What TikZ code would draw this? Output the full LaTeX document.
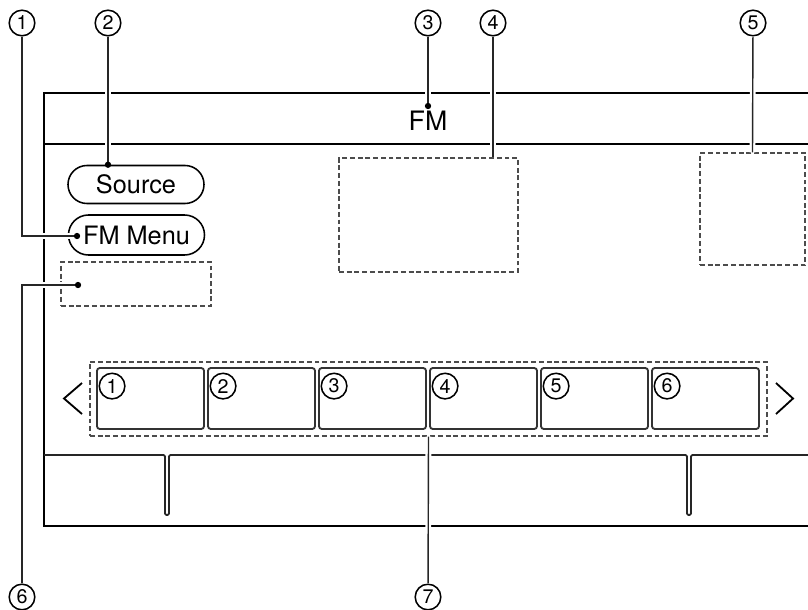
\documentclass[tikz,border=0pt]{standalone}
\usepackage{fontspec}
\setsansfont{TeX Gyre Heros}
\usepackage{tikz}
\usetikzlibrary{positioning, calc, shapes.misc}

\begin{document}
\begin{tikzpicture}[x=0.025cm, y=-0.025cm, font=\sffamily]
        \tikzstyle{frameline} = [line width=2.1pt, black]
        \tikzstyle{panel} = [line width=1.3pt, black!85, rounded corners=1pt]
        \tikzstyle{callout} = [circle, draw, line width=1.1pt, minimum size=0.64cm, inner sep=0pt, font=\sffamily\fontsize{14}{14}\selectfont]
        \tikzstyle{leader} = [line width=1pt, black!85, preaction={draw=white, line width=4.2pt}]
        \tikzstyle{button} = [rounded rectangle, draw, line width=1.1pt, minimum width=3.4cm, minimum height=0.95cm, inner sep=0pt, font=\sffamily\fontsize{18}{18}\selectfont]
        \tikzstyle{area} = [rectangle, draw=black!70, dash pattern=on 3.5pt off 2pt, line width=1pt, inner sep=0pt]
        \tikzstyle{preset} = [rectangle, draw=black!80, line width=1.3pt, rounded corners=2pt, minimum width=2.675cm, minimum height=1.525cm, inner sep=0pt]
        \tikzstyle{dot} = [circle, fill, inner sep=0pt, minimum size=4.5pt]

        \useasboundingbox (0,0) rectangle (808,610);

        % screen frame
        \draw [frameline] (808,93) -- (44,93) -- (44,526) -- (808,526);
        \draw [frameline] (44,144) -- (808,144);
        \draw [panel] (44,455) -- (165,455) -- (165,515) -- (169,515) -- (169,455) -- (687,455) -- (687,515) -- (691,515) -- (691,455) -- (808,455);

        \node [font=\sffamily\fontsize{19}{19}\selectfont] (fm) at (428,121) {FM};
        \node [button] (source) at (136,184.5) {Source};
        \node [button, minimum height=1cm] (fmmenu) at (136.5,235) {FM Menu};
        \node [area, minimum width=4.475cm, minimum height=2.85cm] (box4) at (428.5,215) {};
        \node [area, minimum width=2.625cm, minimum height=2.8cm] (box5) at (752.5,209) {};
        \node [area, minimum width=3.75cm, minimum height=1.1cm] (box6) at (136,284) {};

        % preset list
        \node [area, minimum width=16.925cm, minimum height=1.85cm] (presets) at (428.5,399) {};
        \foreach \i in {1,...,6} {
            \node [preset] (p\i) at ({150.5+111*(\i-1)},398.5) {};
            \node [callout] (n\i) at ($(p\i.north west)+(16,19)$) {\i};
        }
        \draw [line width=1.3pt] (82,383) -- (64,398.5) -- (82,414);
        \draw [line width=1.3pt] (776,383) -- (793,398.5) -- (776,414);

        % callouts
        \node [callout] (c1) at (22,23) {1};
        \node [callout] (c2) at (108,23) {2};
        \node [callout] (c3) at (428,23) {3};
        \node [callout] (c4) at (493,23) {4};
        \node [callout] (c5) at (753,23) {5};
        \node [callout] (c6) at (22,597) {6};
        \node [callout] (c7) at (428,597) {7};

        \coordinate (d1) at (77,236);
        \coordinate (d3) at (428,106);
        \coordinate (d6) at (78,285);

        \draw [leader] (c1) |- (d1);
        \draw [leader] (c2) -- (c2 |- source.north);
        \draw [leader] (c3) -- (d3);
        \draw [leader] (c4) -- (c4 |- box4.north);
        \draw [leader] (c5) -- (box5.north);
        \draw [leader] (d6) -| (c6);
        \draw [leader] (presets.south) -- (c7);

        \node [dot] at (d1) {};
        \node [dot] at (c2 |- source.north) {};
        \node [dot] at (d3) {};
        \node [dot] at (d6) {};
    \end{tikzpicture}
\end{document}
